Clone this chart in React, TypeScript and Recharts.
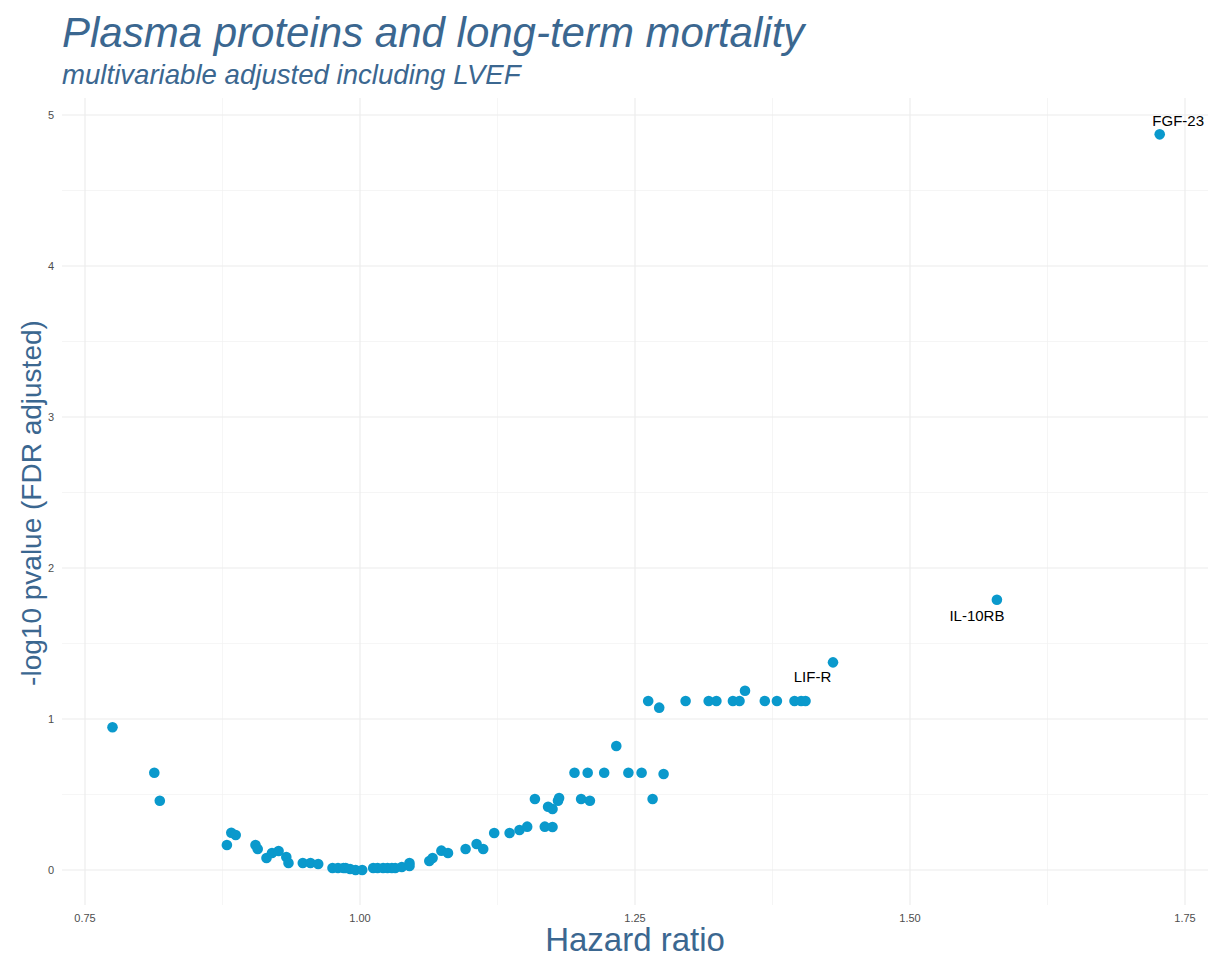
import React from 'react';
import { ScatterChart, Scatter, XAxis, YAxis, ReferenceLine } from 'recharts';

// Hazard ratio (x) and -log10 FDR-adjusted p-value (y) for unlabeled proteins
const hazardRatio = [
  0.775, 0.813, 0.818, 0.879, 0.883, 0.887, 0.905, 0.907, 0.915, 0.920,
  0.926, 0.933, 0.935, 0.948, 0.955, 0.962, 0.975, 0.980, 0.985, 0.987,
  0.991, 0.996, 1.002, 1.012, 1.016, 1.021, 1.025, 1.029, 1.032, 1.038,
  1.045, 1.045, 1.063, 1.066, 1.074, 1.080, 1.096, 1.106, 1.112, 1.122,
  1.136, 1.145, 1.152, 1.159, 1.168, 1.175, 1.171, 1.175, 1.180, 1.181,
  1.195, 1.207, 1.201, 1.209, 1.222, 1.233, 1.244, 1.256, 1.266, 1.276,
  1.262, 1.272, 1.296, 1.317, 1.324, 1.339, 1.345, 1.350, 1.368, 1.379,
  1.395, 1.401, 1.405,
];
const negLog10P = [
  0.945, 0.644, 0.459, 0.166, 0.247, 0.232, 0.166, 0.139, 0.079, 0.113,
  0.126, 0.086, 0.046, 0.046, 0.046, 0.040, 0.013, 0.013, 0.013, 0.013,
  0.007, 0.000, 0.000, 0.013, 0.013, 0.013, 0.013, 0.013, 0.013, 0.020,
  0.046, 0.026, 0.060, 0.079, 0.128, 0.113, 0.139, 0.172, 0.139, 0.245,
  0.245, 0.265, 0.287, 0.470, 0.287, 0.285, 0.419, 0.404, 0.459, 0.477,
  0.644, 0.644, 0.470, 0.459, 0.644, 0.821, 0.644, 0.644, 0.470, 0.636,
  1.119, 1.075, 1.119, 1.119, 1.119, 1.119, 1.119, 1.187, 1.119, 1.119,
  1.119, 1.119, 1.119,
];

// Labeled proteins
const labeledNames = ['LIF-R', 'IL-10RB', 'FGF-23'];
const labeledHazardRatio = [1.430, 1.579, 1.727];
const labeledNegLog10P = [1.375, 1.79, 4.872];

const xMajorTicks = [0.75, 1.0, 1.25, 1.5, 1.75];
const xMinorTicks = [0.875, 1.125, 1.375, 1.625];
const yMajorTicks = [0, 1, 2, 3, 4, 5];
const yMinorTicks = [0.5, 1.5, 2.5, 3.5, 4.5];

const titleText = 'Plasma proteins and long-term mortality';
const subtitleText = 'multivariable adjusted including LVEF';
const xTitle = 'Hazard ratio';
const yTitle = '-log10 pvalue (FDR adjusted)';

const points = hazardRatio.map((hr, i) => ({ hr, p: negLog10P[i] }));
const labeledPoints = labeledHazardRatio.map((hr, i) => ({ hr, p: labeledNegLog10P[i], name: labeledNames[i] }));

const POINT_COLOR = '#0A99CC';
const TITLE_COLOR = '#3B6790';
const FONT = '"Liberation Sans", Arial, Helvetica, sans-serif';

const labelOffsets: Record<string, { dx: number; dy: number }> = {
  'FGF-23': { dx: 18.5, dy: -8 },
  'IL-10RB': { dx: -20, dy: 21 },
  'LIF-R': { dx: -20.5, dy: 20 },
};

const Dot = (props: any) => {
  const { cx, cy } = props;
  if (cx == null || cy == null) return null;
  return <circle cx={cx} cy={cy} r={5.3} fill={POINT_COLOR} />;
};

const LabeledDot = (props: any) => {
  const { cx, cy, payload } = props;
  if (cx == null || cy == null) return null;
  const off = labelOffsets[payload.name] || { dx: 0, dy: -10 };
  return (
    <g>
      <circle cx={cx} cy={cy} r={5.3} fill={POINT_COLOR} />
      <text x={cx + off.dx} y={cy + off.dy} textAnchor="middle" fontSize={15} fontFamily={FONT} fill="#000000">
        {payload.name}
      </text>
    </g>
  );
};

const fmtX = (v: number) => v.toFixed(2);

export default function App() {
  return (
    <div style={{ position: 'absolute', left: 0, top: 0, width: 1208, height: 956, background: '#ffffff', fontFamily: FONT, overflow: 'hidden' }}>
      <div style={{ position: 'absolute', left: 62, top: 12, fontSize: 42, lineHeight: '42px', fontStyle: 'italic', color: TITLE_COLOR, whiteSpace: 'nowrap' }}>
        {titleText}
      </div>
      <div style={{ position: 'absolute', left: 62, top: 61, fontSize: 27.6, lineHeight: '27px', fontStyle: 'italic', color: TITLE_COLOR, whiteSpace: 'nowrap' }}>
        {subtitleText}
      </div>
      <div style={{ position: 'absolute', left: 0, top: 0 }}>
        <ScatterChart width={1208} height={956} margin={{ top: 98, right: 0, bottom: 0, left: 0 }}>
          {xMinorTicks.map((v) => (
            <ReferenceLine key={'xm' + v} x={v} stroke="#F0F0F0" strokeWidth={0.7} />
          ))}
          {yMinorTicks.map((v) => (
            <ReferenceLine key={'ym' + v} y={v} stroke="#F0F0F0" strokeWidth={0.7} />
          ))}
          {xMajorTicks.map((v) => (
            <ReferenceLine key={'xM' + v} x={v} stroke="#EBEBEB" strokeWidth={1.1} />
          ))}
          {yMajorTicks.map((v) => (
            <ReferenceLine key={'yM' + v} y={v} stroke="#EBEBEB" strokeWidth={1.1} />
          ))}
          <XAxis
            type="number"
            dataKey="hr"
            domain={[0.7291, 1.7709]}
            ticks={xMajorTicks}
            tickFormatter={fmtX}
            axisLine={false}
            tickLine={false}
            tickSize={0}
            tickMargin={9}
            height={51}
            tick={{ fontSize: 11, fill: '#4D4D4D', fontFamily: FONT }}
            interval={0}
          />
          <YAxis
            type="number"
            dataKey="p"
            domain={[-0.2318, 5.1126]}
            ticks={yMajorTicks}
            axisLine={false}
            tickLine={false}
            tickSize={0}
            tickMargin={8}
            width={62}
            tick={{ fontSize: 11, fill: '#4D4D4D', fontFamily: FONT }}
            interval={0}
          />
          <Scatter data={points} shape={Dot} isAnimationActive={false} />
          <Scatter data={labeledPoints} shape={LabeledDot} isAnimationActive={false} />
        </ScatterChart>
      </div>
      <div style={{ position: 'absolute', left: 62, width: 1146, top: 925, height: 30, fontSize: 33, lineHeight: '30px', color: TITLE_COLOR, textAlign: 'center', whiteSpace: 'nowrap' }}>
        {xTitle}
      </div>
      <div
        style={{
          position: 'absolute',
          left: 32 - 300,
          width: 600,
          top: 503 - 14,
          height: 28,
          fontSize: 28,
          lineHeight: '28px',
          color: TITLE_COLOR,
          textAlign: 'center',
          whiteSpace: 'nowrap',
          transform: 'rotate(-90deg)',
          transformOrigin: 'center center',
        }}
      >
        {yTitle}
      </div>
    </div>
  );
}
